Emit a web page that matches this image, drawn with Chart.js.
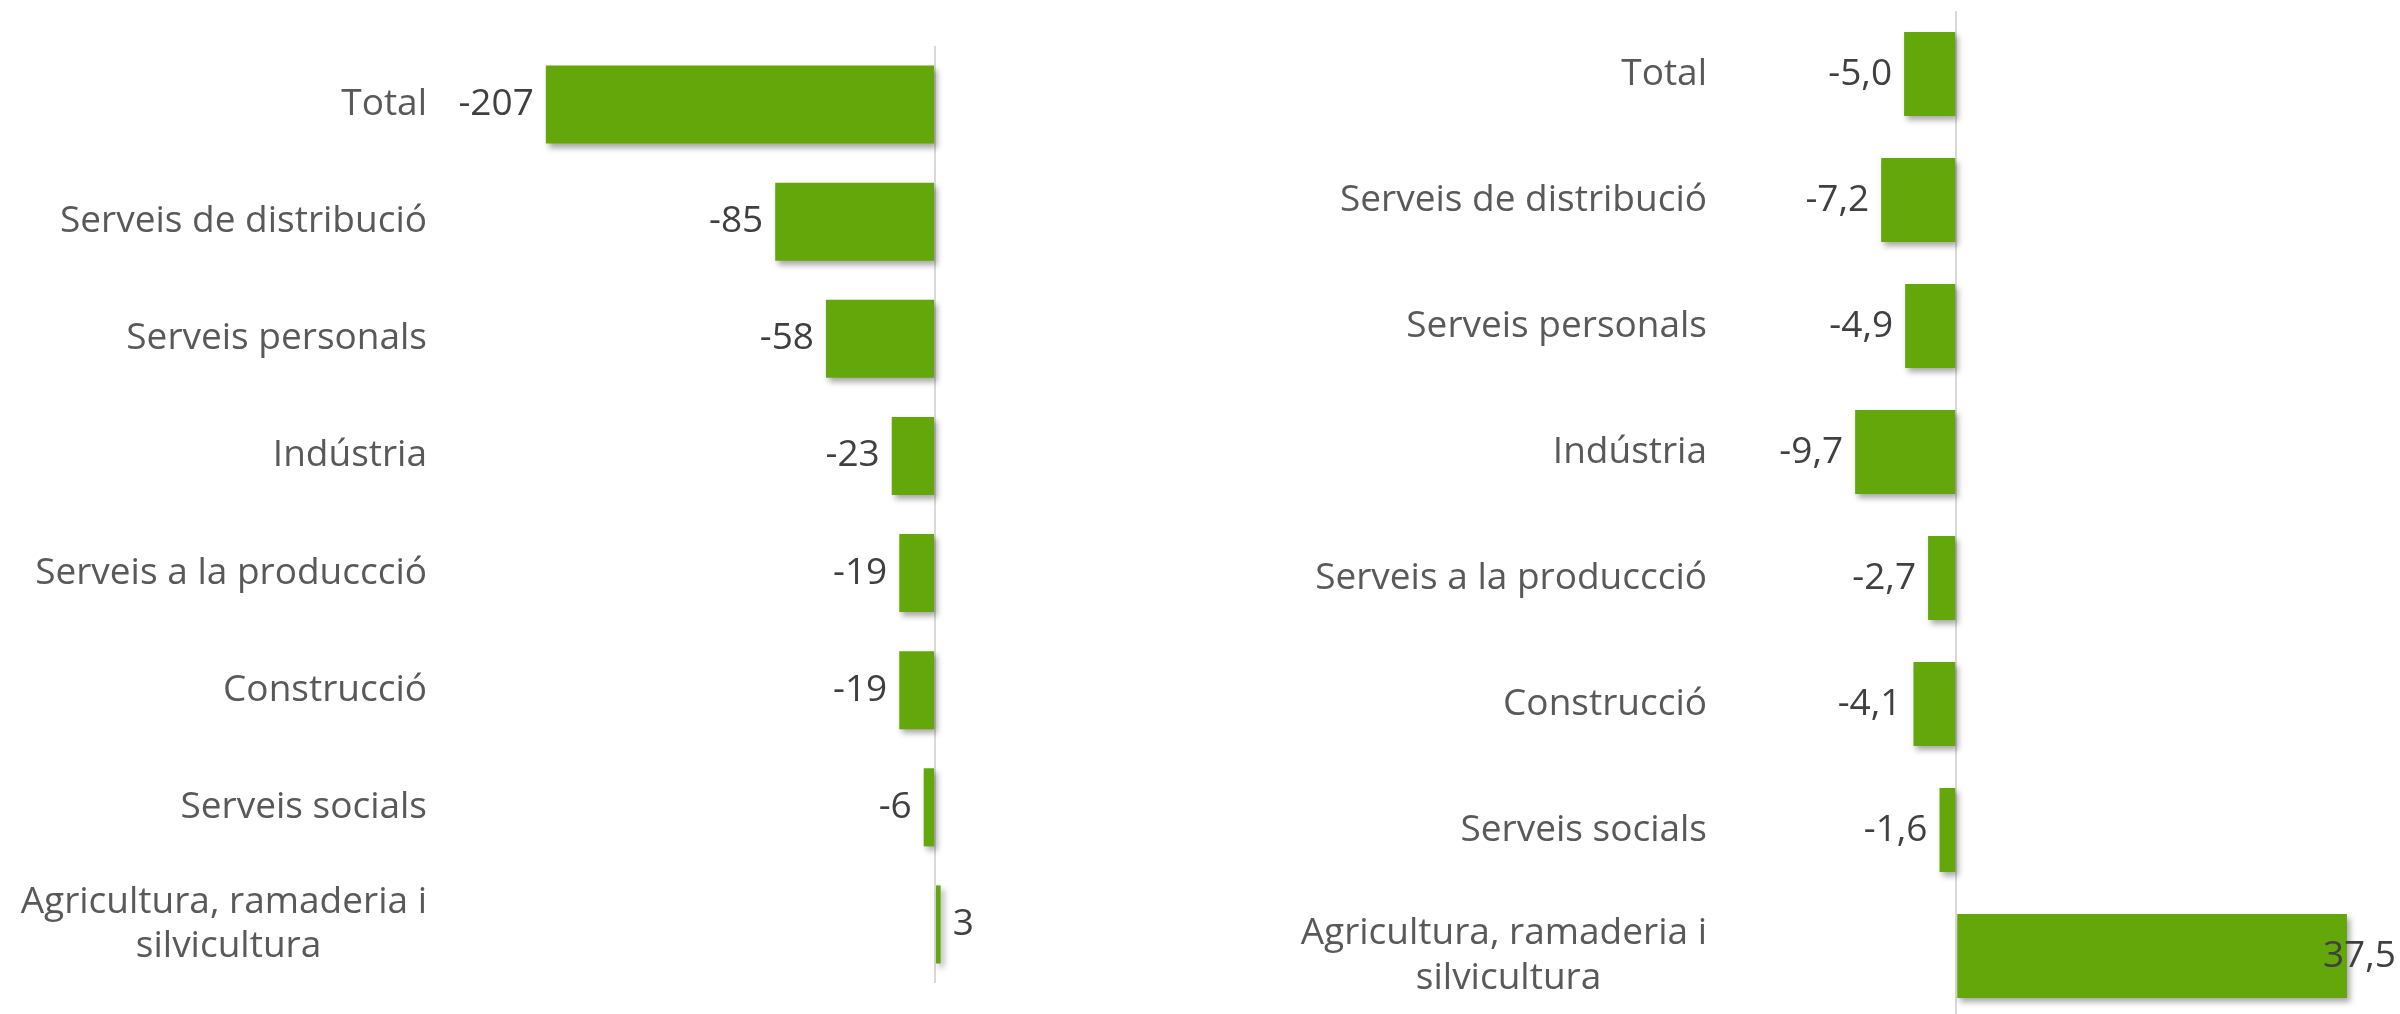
<!DOCTYPE html>
<html>
<head>
<meta charset="utf-8">
<script src="https://cdn.jsdelivr.net/npm/chart.js@4.4.1/dist/chart.umd.min.js"></script>
<style>
  body { margin: 0; background: #fff; overflow: hidden; }
  #left_wrap { position: absolute; left: 0; top: 0; width: 1200px; height: 1014px; }
  #right_wrap { position: absolute; left: 1200px; top: 0; width: 1200px; height: 1030px; }
</style>
</head>
<body>
<div id="left_wrap"><canvas id="left_chart"></canvas></div>
<div id="right_wrap"><canvas id="right_chart"></canvas></div>
<script>
const sectors = [
  'Total',
  'Serveis de distribució',
  'Serveis personals',
  'Indústria',
  'Serveis a la produccció',
  'Construcció',
  'Serveis socials',
  ['Agricultura, ramaderia i', 'silvicultura']
];
const change_abs = [-207, -85, -58, -23, -19, -19, -6, 3];
const change_pct = [-5.0, -7.2, -4.9, -9.7, -2.7, -4.1, -1.6, 37.5];

const green = '#64a70b';
const labelFont = { family: 'Open Sans', size: 37, lineHeight: 1.2 };

// pad the shorter lines of a wrapped label so they sit centred under the longest one
const measure = document.createElement('canvas').getContext('2d');
function centerLines(label) {
  if (!Array.isArray(label)) return label;
  measure.font = labelFont.size + 'px "' + labelFont.family + '"';
  const widths = label.map(l => measure.measureText(l).width);
  const widest = Math.max(...widths);
  const space = measure.measureText(' ').width;
  return label.map((l, i) => l + ' '.repeat(Math.round((widest - widths[i]) / 2 / space)));
}

const barShadow = {
  id: 'barShadow',
  beforeDatasetsDraw(chart) {
    const ctx = chart.ctx;
    ctx.save();
    ctx.shadowColor = 'rgba(0, 0, 0, 0.35)';
    ctx.shadowBlur = 6;
    ctx.shadowOffsetX = 3;
    ctx.shadowOffsetY = 4;
  },
  afterDatasetsDraw(chart) {
    chart.ctx.restore();
  }
};

const valueLabels = {
  id: 'valueLabels',
  afterDatasetsDraw(chart, args, opts) {
    const ctx = chart.ctx;
    const values = chart.data.datasets[0].data;
    ctx.save();
    ctx.font = labelFont.size + 'px "' + labelFont.family + '"';
    ctx.fillStyle = '#404040';
    ctx.textBaseline = 'middle';
    ctx.textAlign = 'left';
    chart.getDatasetMeta(0).data.forEach((bar, i) => {
      const text = opts.format(values[i]);
      const w = ctx.measureText(text).width;
      let x = values[i] < 0 ? bar.x - 12 - w : bar.x + 12;
      x = Math.min(x, chart.width - w - 4);
      ctx.fillText(text, x, bar.y);
    });
    ctx.restore();
  }
};

function makeChart(el, values, cfg) {
  return new Chart(el, {
    type: 'bar',
    data: {
      labels: sectors,
      datasets: [{
        data: values,
        backgroundColor: green,
        borderWidth: 0,
        barPercentage: 1,
        categoryPercentage: 0.667
      }]
    },
    plugins: [barShadow, valueLabels],
    options: {
      indexAxis: 'y',
      responsive: true,
      maintainAspectRatio: false,
      animation: false,
      layout: { padding: cfg.padding },
      plugins: {
        legend: { display: false },
        tooltip: { enabled: false },
        valueLabels: { format: cfg.format }
      },
      scales: {
        x: {
          min: cfg.min,
          max: cfg.max,
          ticks: { display: false },
          border: { display: false },
          grid: {
            drawTicks: false,
            lineWidth: 2,
            color: c => c.tick && c.tick.value === 0 ? '#d9d9d9' : 'transparent'
          },
          afterFit: s => { s.height = 0; }
        },
        y: {
          grid: { display: false },
          border: { display: false },
          ticks: {
            padding: cfg.labelPad,
            color: '#595959',
            font: labelFont,
            callback: function (value) {
              return centerLines(this.getLabelForValue(value));
            }
          },
          afterFit: s => {
            s.width = cfg.axisWidth;
            // tick padding would otherwise push the plot area in from top and bottom
            s.paddingTop = 0;
            s.paddingBottom = 0;
          }
        }
      }
    }
  });
}

makeChart(document.getElementById('left_chart'), change_abs, {
  min: -250, max: 50,
  axisWidth: 465, labelPad: 30,
  padding: { top: 46, bottom: 31, left: 0, right: 171 },
  format: v => String(v)
});

makeChart(document.getElementById('right_chart'), change_pct, {
  min: -10, max: 40,
  axisWidth: 652, labelPad: 137,
  padding: { top: 11, bottom: 11, left: 0, right: 27 },
  format: v => v.toFixed(1).replace('.', ',')
});
</script>
</body>
</html>
